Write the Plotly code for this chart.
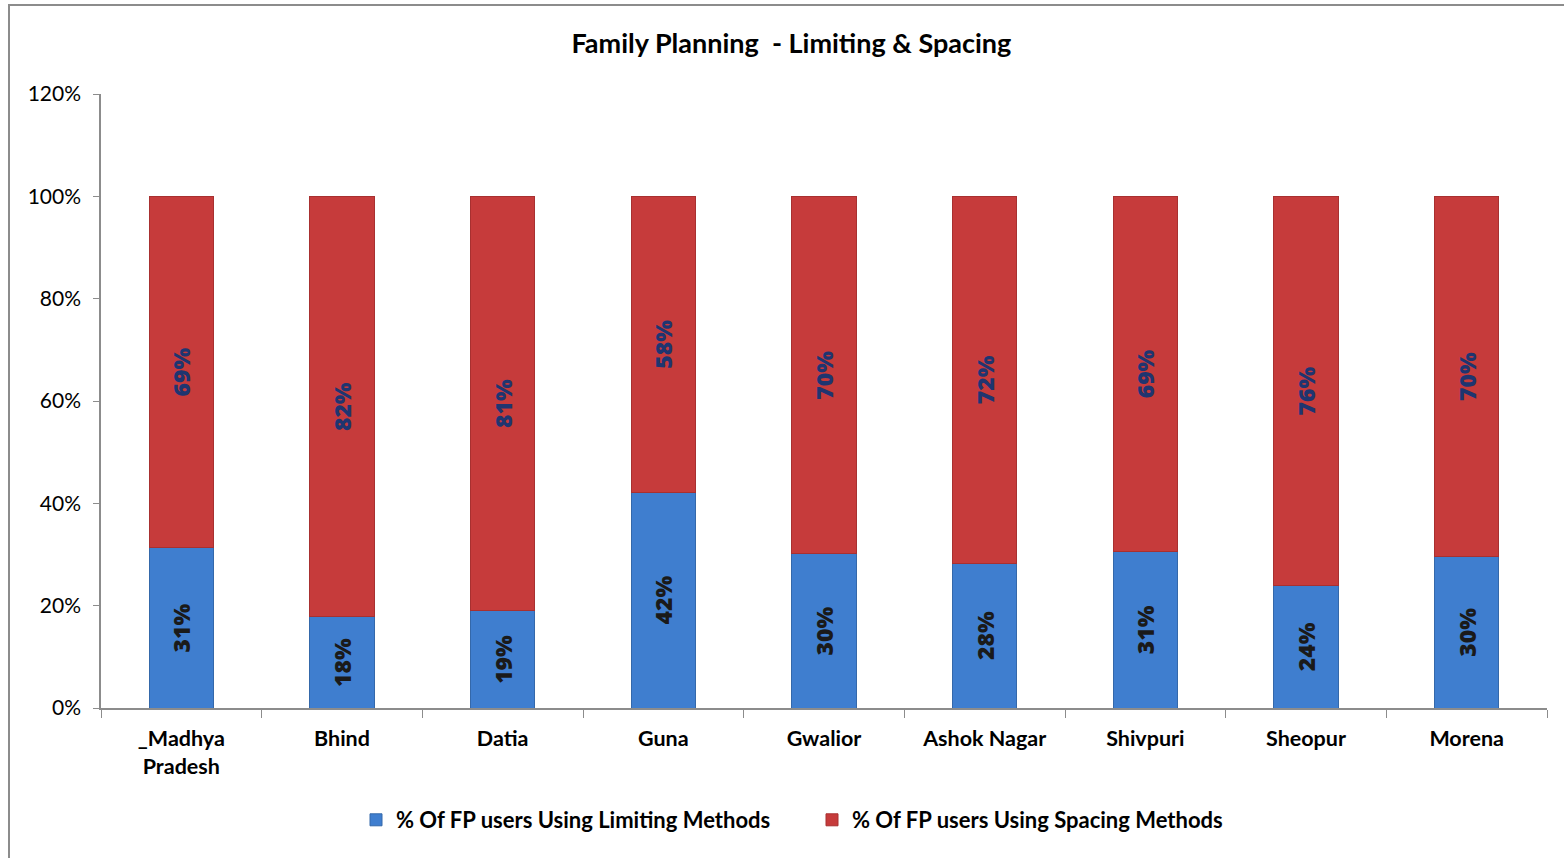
import plotly.graph_objects as go

categories = ["_Madhya<br>Pradesh", "Bhind", "Datia", "Guna", "Gwalior",
              "Ashok Nagar", "Shivpuri", "Sheopur", "Morena"]
limiting = [0.313, 0.178, 0.190, 0.422, 0.301, 0.283, 0.306, 0.239, 0.296]
spacing = [0.687, 0.822, 0.810, 0.578, 0.699, 0.717, 0.694, 0.761, 0.704]
series_names = ["% Of FP users Using Limiting Methods",
                "% Of FP users Using Spacing Methods"]
y_ticks = [0, 0.2, 0.4, 0.6, 0.8, 1.0, 1.2]

FONT = "Lato, 'Open Sans', sans-serif"
LABEL_FONT = "'Open Sans', Lato, sans-serif"

fig = go.Figure()
fig.add_trace(go.Bar(
    x=categories, y=limiting, name=series_names[0],
    marker=dict(color="#3F7ECF", line=dict(color="#3468AA", width=1)),
    text=limiting, texttemplate="%{text:.0%}", textposition="inside",
    insidetextanchor="middle", textangle=-90,
    textfont=dict(family=LABEL_FONT, size=23, color="#1a1a1a", weight=800),
    width=0.4,
))
fig.add_trace(go.Bar(
    x=categories, y=spacing, name=series_names[1],
    marker=dict(color="#C63B3B", line=dict(color="#A83030", width=1)),
    text=spacing, texttemplate="%{text:.0%}", textposition="inside",
    insidetextanchor="middle", textangle=-90,
    textfont=dict(family=LABEL_FONT, size=23, color="#1F3570", weight=800),
    width=0.4,
))

fig.update_layout(
    barmode="stack",
    width=1564, height=858,
    margin=dict(l=101, r=17, t=94, b=150),
    paper_bgcolor="white", plot_bgcolor="white",
    font=dict(family=FONT, color="#000000"),
    title=dict(text="<b>Family Planning \u00a0- Limiting &amp; Spacing</b>",
               x=0.506, xanchor="center", y=1 - 44 / 858, yanchor="middle",
               font=dict(family=FONT, size=27, color="#000000")),
    showlegend=True,
    legend=dict(orientation="h", x=(356 - 101) / 1446, xanchor="left",
                y=(708 - 820) / 614, yanchor="middle", traceorder="normal",
                font=dict(family=FONT, size=22, color="#000000", weight="bold"),
                entrywidth=411, entrywidthmode="pixels",
                itemwidth=30, tracegroupgap=0),
    shapes=[dict(type="rect", xref="paper", yref="paper",
                 x0=(9 - 101) / 1446, x1=(1600 - 101) / 1446,
                 y0=(708 - 900) / 614, y1=(708 - 5) / 614,
                 line=dict(color="#8c8c8c", width=2), fillcolor="rgba(0,0,0,0)",
                 layer="below")],
)
fig.update_xaxes(
    showline=True, linecolor="#8c8c8c", linewidth=1.5,
    ticks="outside", tickson="boundaries", ticklen=8, tickcolor="#8c8c8c",
    tickfont=dict(family=FONT, size=21.5, color="#000000", weight="bold"),
    ticklabelstandoff=10,
    showgrid=False,
)
fig.update_yaxes(
    range=[0, 1.2], tickvals=y_ticks, tickformat=".0%",
    showline=True, linecolor="#8c8c8c", linewidth=1.5,
    ticks="outside", ticklen=6, tickcolor="#8c8c8c",
    tickfont=dict(family=FONT, size=21, color="#000000"),
    ticklabelstandoff=8,
    showgrid=False, zeroline=False,
)

fig.write_html("out.html")
